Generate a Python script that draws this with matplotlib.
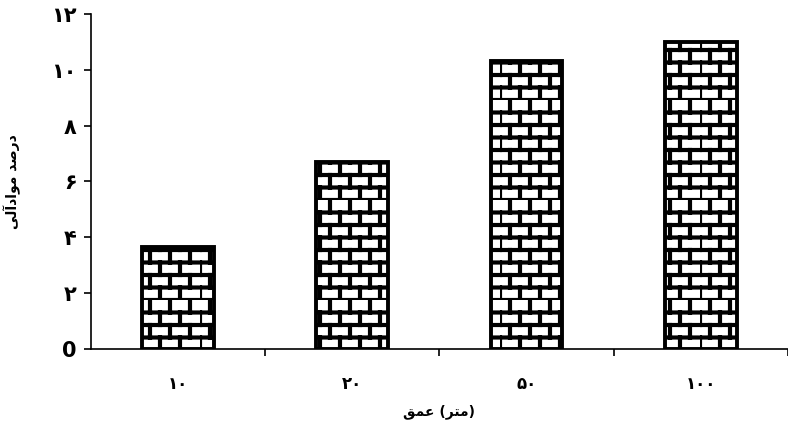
import numpy as np
import matplotlib
matplotlib.use('Agg')
import matplotlib.pyplot as plt
from matplotlib import hatch as mhatch
from matplotlib.path import Path

# data
depths = ['\u06f1\u06f0', '\u06f2\u06f0', '\u06f5\u06f0', '\u06f1\u06f0\u06f0']
organic = [3.65, 6.7, 10.3, 11.0]
yticks = [0, 2, 4, 6, 8, 10, 12]
ytick_labels = ['0', '\u06f2', '\u06f4', '\u06f6', '\u06f8', '\u06f1\u06f0', '\u06f1\u06f2']

# labels written in visual order with presentation forms (no shaping in matplotlib)
ylabel = '\ufbfd\ufedf\ufe81\ufea9\ufe8d\ufeee\ufee3 \ufeaa\ufebb\ufead\ufea9'
xlabel = '\ufed6\ufee4\ufecb (\ufeae\ufe98\ufee3)'


# brick hatch pattern, used in place of '+'
class BrickHatch(mhatch.HatchPatternBase):
    def __init__(self, hatch, density):
        self.rows = 8   # must be even so the offset rows tile
        self.cols = 5
        if hatch.count('+') > 0:
            self.num_lines = self.rows + self.rows * self.cols
        else:
            self.num_lines = 0
        self.num_vertices = self.num_lines * 2

    def set_vertices_and_codes(self, vertices, codes):
        k = 0
        for i in range(self.rows):
            y0 = i / self.rows
            y1 = (i + 1) / self.rows
            vertices[k] = (0, y0)
            vertices[k + 1] = (1, y0)
            k += 2
            for j in range(self.cols):
                x = (j + 0.5 * (i % 2)) / self.cols
                vertices[k] = (x, y0)
                vertices[k + 1] = (x, y1)
                k += 2
        codes[0::2] = Path.MOVETO
        codes[1::2] = Path.LINETO


mhatch._hatch_types = [BrickHatch]

plt.rcParams['hatch.linewidth'] = 3.0
plt.rcParams['hatch.color'] = 'black'
plt.rcParams['font.family'] = ['DejaVu Sans']

fig = plt.figure(figsize=(7.88, 4.26), dpi=100)
ax = fig.add_axes([0.115, 0.181, 0.885, 0.786])

x = np.arange(len(depths))
ax.bar(x, organic, width=0.41, color='white', edgecolor='black',
       linewidth=2.8, hatch='+', zorder=2)

ax.set_xlim(-0.5, len(depths) - 0.5)
ax.set_ylim(0, 12)
ax.spines['top'].set_visible(False)
ax.spines['right'].set_visible(False)
ax.spines['left'].set_linewidth(1.2)
ax.spines['bottom'].set_linewidth(1.2)

ax.set_yticks(yticks)
ax.set_yticklabels(ytick_labels, fontsize=15, fontweight='bold')
ax.tick_params(axis='y', direction='out', length=5, width=1.2, pad=5)

ax.set_xticks(np.arange(len(depths)) + 0.5)
ax.set_xticklabels([])
ax.set_xticks(x, minor=True)
ax.set_xticklabels(depths, minor=True, fontsize=12, fontweight='bold')
ax.tick_params(axis='x', which='major', direction='out', length=5, width=1.2)
ax.tick_params(axis='x', which='minor', length=0, pad=19)

ax.set_ylabel(ylabel, fontsize=10, fontweight='bold', labelpad=22)
ax.set_xlabel(xlabel, fontsize=10, fontweight='bold', labelpad=8)

fig.savefig('out.png', dpi=100)
